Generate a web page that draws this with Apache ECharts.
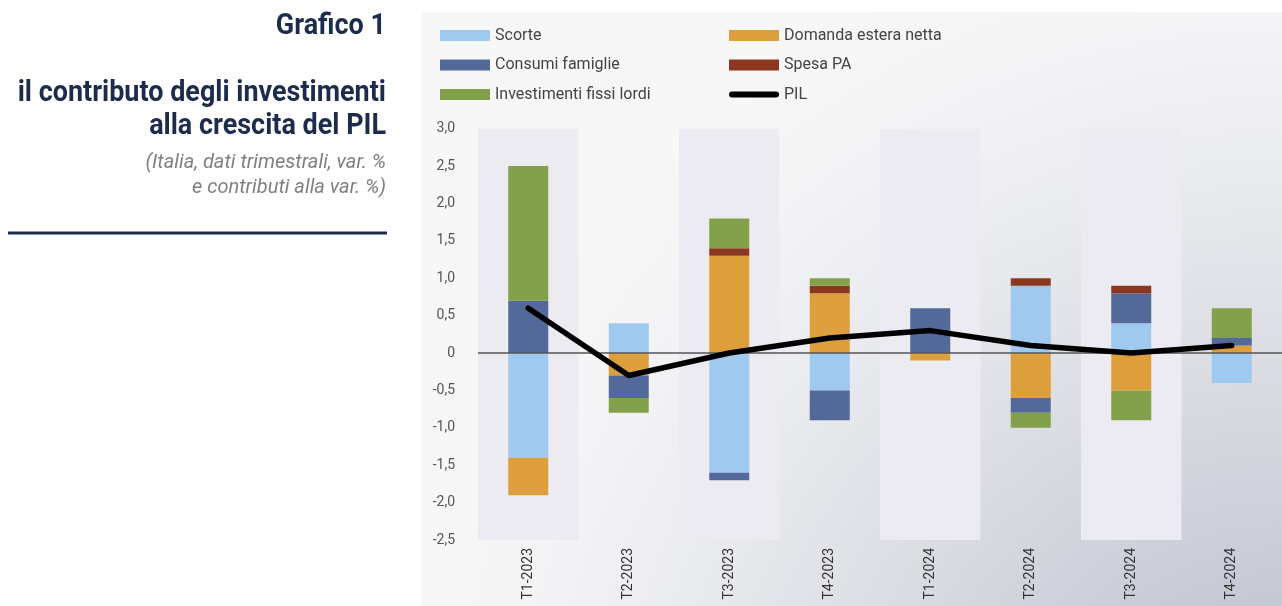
<!DOCTYPE html>
<html>
<head>
<meta charset="utf-8">
<script src="https://cdn.jsdelivr.net/npm/echarts@6/dist/echarts.min.js"></script>
<style>
html,body{margin:0;padding:0;background:#ffffff;}
#chart{width:1282px;height:606px;}
</style>
</head>
<body>
<div id="chart"></div>
<script>
// ---- data ----
var categories = ['T1-2023','T2-2023','T3-2023','T4-2023','T1-2024','T2-2024','T3-2024','T4-2024'];
var scorte      = [-1.4, 0.4, -1.6, -0.5, 0.0, 0.9, 0.4, -0.4];
var domanda     = [-0.5, -0.3, 1.3, 0.8, -0.1, -0.6, -0.5, 0.1];
var consumi     = [0.7, -0.3, -0.1, -0.4, 0.6, -0.2, 0.4, 0.1];
var spesaPA     = [0.0, 0.0, 0.1, 0.1, 0.0, 0.1, 0.1, 0.0];
var investimenti= [1.8, -0.2, 0.4, 0.1, 0.0, -0.2, -0.4, 0.4];
var pil         = [0.6, -0.3, 0.0, 0.2, 0.3, 0.1, 0.0, 0.1];
var titleMain = 'Grafico 1';
var titleLine1 = 'il contributo degli investimenti';
var titleLine2 = 'alla crescita del PIL';
var subLine1 = '(Italia, dati trimestrali, var. %';
var subLine2 = 'e contributi alla var. %)';

var navy = '#1d2b4c';
var chart = echarts.init(document.getElementById('chart'), null, {renderer:'canvas'});

function bar(name, data, color){
  return {
    name: name, type: 'bar', stack: 'tot', data: data, barWidth: 40,
    itemStyle: {color: color}, z: 3
  };
}

var option = {
  animation: false,
  graphic: [
    {type:'rect', z:-10, silent:true, shape:{x:421, y:12, width:861, height:594},
     style:{fill:{type:'radial', x:1282, y:800, r:900, global:true,
       colorStops:[
         {offset:0, color:'#b9becb'},
         {offset:0.215, color:'#c5c9d4'},
         {offset:0.49, color:'#dbdde3'},
         {offset:0.73, color:'#ecedf1'},
         {offset:0.87, color:'#f4f4f6'},
         {offset:1, color:'#f7f7f8'}
       ]}}},
    {type:'text', x:386, y:27, scaleX:0.93, style:{text:titleMain, font:'bold 29px Roboto', fill:navy, align:'right', verticalAlign:'middle'}},
    {type:'text', x:386, y:94, scaleX:0.93, style:{text:titleLine1, font:'bold 29px Roboto', fill:navy, align:'right', verticalAlign:'middle'}},
    {type:'text', x:386, y:127, scaleX:0.93, style:{text:titleLine2, font:'bold 29px Roboto', fill:navy, align:'right', verticalAlign:'middle'}},
    {type:'text', x:386, y:163, style:{text:subLine1, font:'italic 20px Roboto', fill:'#808080', align:'right', verticalAlign:'middle'}},
    {type:'text', x:386, y:188, style:{text:subLine2, font:'italic 20px Roboto', fill:'#808080', align:'right', verticalAlign:'middle'}},
    {type:'line', shape:{x1:8, y1:233, x2:387, y2:233}, style:{stroke:navy, lineWidth:3}}
  ],
  legend: [
    {
      orient:'vertical', left:435, top:22, itemWidth:50, itemHeight:11, itemGap:12.5,
      textStyle:{fontFamily:"Roboto", fontSize:16, color:'#444', lineHeight:17},
      data:['Scorte','Consumi famiglie','Investimenti fissi lordi'],
      icon:'rect'
    },
    {
      orient:'vertical', left:724, top:22, itemWidth:50, itemHeight:11, itemGap:12.5,
      textStyle:{fontFamily:"Roboto", fontSize:16, color:'#444', lineHeight:17},
      data:[{name:'Domanda estera netta', icon:'rect'},{name:'Spesa PA', icon:'rect'},
            {name:'PIL', icon:'path://M3,0 L47,0 A3,3 0 0 1 47,6 L3,6 A3,3 0 0 1 3,0 Z', itemStyle:{color:'#000'}}]
    }
  ],
  grid: {left:478, right:0, top:128.7, bottom:66, containLabel:false},
  xAxis: {
    type:'category', data:categories,
    axisLine:{show:false},
    axisTick:{show:false},
    axisLabel:{rotate:90, margin:8, fontFamily:"Roboto", fontSize:14, color:'#333'},
    splitArea:{show:true, areaStyle:{color:['#ecebf1','rgba(0,0,0,0)']}},
    splitLine:{show:false}
  },
  yAxis: {
    type:'value', min:-2.5, max:3.0, interval:0.5,
    axisLine:{show:false}, axisTick:{show:false}, splitLine:{show:false},
    axisLabel:{margin:23, fontFamily:"Roboto", fontSize:14, color:'#555',
      formatter:function(v){ if (Math.abs(v) < 1e-9) return '0'; return v.toFixed(1).replace('.', ','); }}
  },
  series: [
    bar('Scorte', scorte, '#9fc9ef'),
    bar('Domanda estera netta', domanda, '#dc9f3b'),
    bar('Consumi famiglie', consumi, '#52699a'),
    bar('Spesa PA', spesaPA, '#8c3820'),
    bar('Investimenti fissi lordi', investimenti, '#83a14a'),
    {name:'PIL', type:'line', data:pil, symbol:'none', z:5,
     lineStyle:{color:'#000', width:5.5, cap:'round', join:'round'}, itemStyle:{color:'#000'},
     markLine:{silent:true, symbol:'none', z:4, label:{show:false},
       lineStyle:{color:'#555', width:1.5, type:'solid'},
       data:[{yAxis:0}]}}
  ]
};
chart.setOption(option);
</script>
</body>
</html>
